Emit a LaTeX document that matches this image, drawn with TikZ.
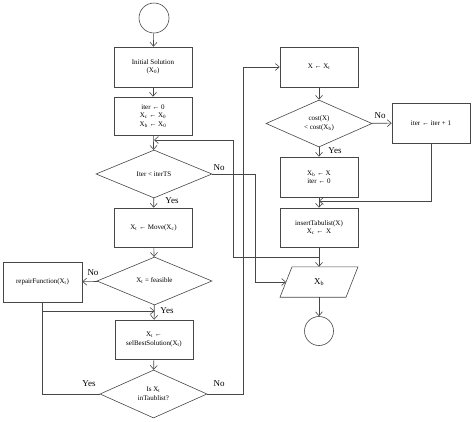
\documentclass[tikz,border=0pt]{standalone}
\usepackage{fontspec}
\setmainfont{Liberation Serif}
\usetikzlibrary{arrows.meta,shapes.geometric}
\begin{document}
\begin{tikzpicture}[x=1pt,y=-1pt,
  line/.style={draw=black!72, line width=0.6pt},
  arr/.style={line, -{Straight Barb[length=4pt,width=7pt]}},
  box/.style={line, rectangle, minimum width=78pt, minimum height=40pt, align=center, font=\fontsize{7}{8.5}\selectfont, inner sep=1pt},
  dia/.style={line, diamond, inner sep=0pt, align=center, font=\fontsize{7}{8.5}\selectfont},
  term/.style={line, circle, minimum size=30pt, inner sep=0pt},
  lab/.style={font=\fontsize{9}{10}\selectfont, inner sep=0pt}
]
\useasboundingbox (0,0) rectangle (474,421);

% main column
\node[term] (start) at (154,18) {};
\node[box] (init) at (153,67) {Initial Solution\\(X\textsubscript{0})};
\node[box, minimum height=38pt] (iterbox) at (153,116) {iter ← 0\\X\textsubscript{c} ← X\textsubscript{0}\\X\textsubscript{b} ← X\textsubscript{0}};
\node[dia, minimum width=116pt, minimum height=48pt] (iterdia) at (154,174) {Iter {<} iterTS};
\node[box, minimum height=39pt] (move) at (153.5,227.5) {X\textsubscript{t} ← Move(X\textsubscript{c})};
\node[dia, minimum width=115pt, minimum height=48pt] (feasdia) at (154.5,281) {X\textsubscript{t} = feasible};
\node[box, minimum width=79pt] (repair) at (42.5,282) {repairFunction(X\textsubscript{t})};
\node[box, minimum height=39pt] (selbest) at (154,339.5) {X\textsubscript{t} ←\\selBestSolution(X\textsubscript{t})};
\node[dia, minimum width=107pt, minimum height=48pt] (taudia) at (153.5,394) {Is X\textsubscript{t}\\inTaublist?};

% right column
\node[box] (xbox) at (319,67) {X ← X\textsubscript{t}};
\node[dia, minimum width=106pt, minimum height=47pt] (costdia) at (319,123.5) {cost(X)\\{<} cost(X\textsubscript{b})};
\node[box] (inc) at (431,123) {iter ← iter + 1};
\node[box] (xbupd) at (319,177) {X\textsubscript{b} ← X\\iter ← 0};
\node[box, minimum height=39pt] (insert) at (319,227.5) {insertTabulist(X)\\X\textsubscript{c} ← \,X};
% output parallelogram
\node[minimum width=66pt, minimum height=30pt, inner sep=0pt, font=\fontsize{9}{10}\selectfont] (xb) at (319,282) {X\textsubscript{b}};
\draw[line] ([xshift=-39pt]xb.south) -- ([xshift=27pt]xb.south) -- ([xshift=39pt]xb.north) -- ([xshift=-27pt]xb.north) -- cycle;
\coordinate (xbl) at (286,282);
\node[term, minimum size=29pt] (end) at (319,331) {};

% helper coordinates
\coordinate (j1) at (319,257);
\coordinate (l1) at (233,257);
\coordinate (l2) at (233,140);
\coordinate (l3) at (154,140);
\coordinate (n1) at (255,174);
\coordinate (n2) at (255,282);
\coordinate (t1) at (243,394);
\coordinate (t2) at (243,67);
\coordinate (r1) at (42.5,311);
\coordinate (r2) at (154.5,311);
\coordinate (y1) at (42.5,394);
\coordinate (i1) at (431,201);
\coordinate (i2) at (319,201);

% main flow
\draw[arr] (start) -- (init);
\draw[arr] (init) -- (iterbox);
\draw[arr] (iterbox) -- (iterdia);
\draw[arr] (iterdia) -- (move);
\draw[arr] (move) -- (feasdia);
\draw[arr] (feasdia) -- (repair);
\draw[arr] (feasdia) -- (selbest);
\draw[arr] (selbest) -- (taudia);
\draw[arr] (repair.south) -- (r1) -- (r2);
\draw[line] (taudia.west) -- (y1) -- (r1);
\draw[arr] (taudia.east) -- (t1) -- (t2) -- (xbox.west);
\draw[arr] (iterdia.east) -- (n1) -- (n2) -- (xbl);

% right flow
\draw[arr] (xbox) -- (costdia);
\draw[arr] (costdia) -- (inc);
\draw[arr] (costdia) -- (xbupd);
\draw[arr] (xbupd) -- (insert);
\draw[arr] (inc.south) -- (i1) -- (i2);
\draw[arr] (insert) -- (xb);
\draw[arr] (j1) -- (l1) -- (l2) -- (l3);
\draw[arr] (xb) -- (end);

% labels
\node[lab] (lno1) at (219,168) {No};
\node[lab] (lyes1) at (172,201) {Yes};
\node[lab] (lno2) at (93,273) {No};
\node[lab] (lyes2) at (167,311) {Yes};
\node[lab] (lyes3) at (89,384) {Yes};
\node[lab] (lno3) at (219,384) {No};
\node[lab] (lno4) at (380,116) {No};
\node[lab] (lyes4) at (335,151) {Yes};
\end{tikzpicture}
\end{document}
